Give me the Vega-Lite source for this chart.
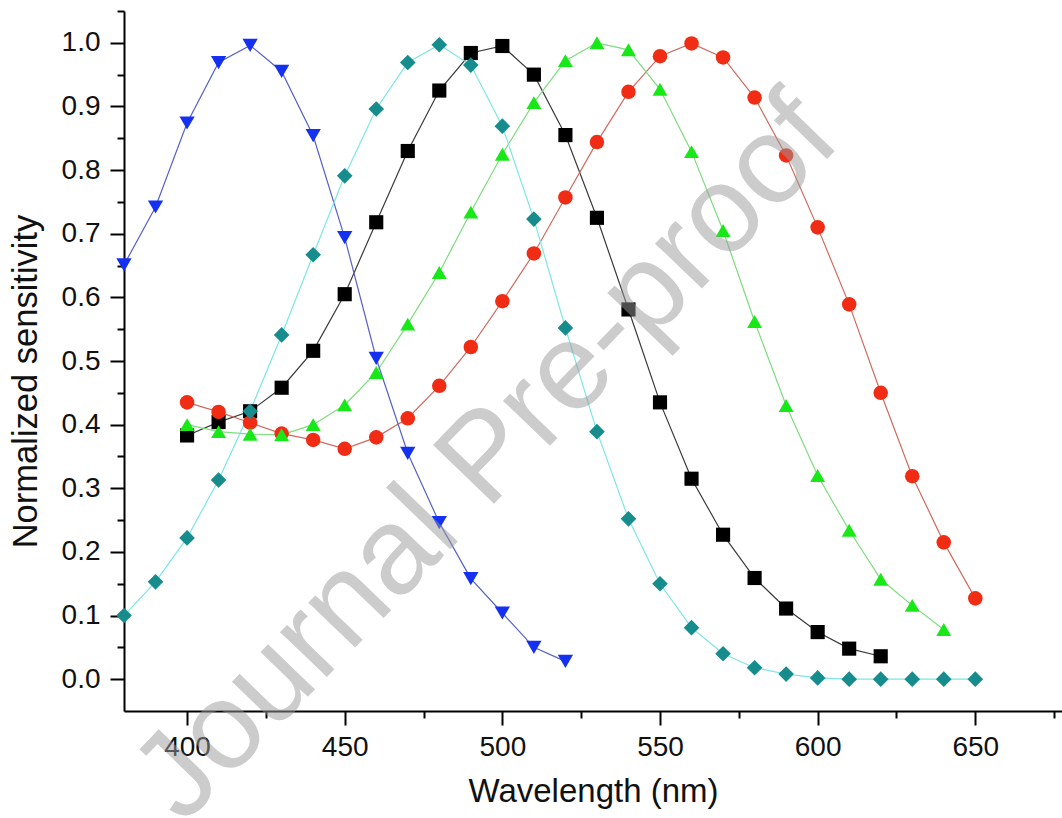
{
  "$schema": "https://vega.github.io/schema/vega-lite/v6.json",
  "width": 938,
  "height": 700,
  "autosize": {"type": "none"},
  "padding": {"left": 124, "top": 11, "right": 0, "bottom": 107},
  "background": "white",
  "config": {
    "view": {"stroke": null},
    "axis": {
      "grid": false,
      "domainColor": "#000000",
      "domainWidth": 2,
      "tickColor": "#000000",
      "tickWidth": 2,
      "labelFont": "Liberation Sans",
      "labelFontSize": 28,
      "labelColor": "#111111",
      "titleFont": "Liberation Sans",
      "titleFontSize": 33,
      "titleFontWeight": "normal",
      "titleColor": "#111111"
    }
  },
  "datasets": {
    "curves": [
      {"s": "P500", "wl": 400, "v": 0.383}, {"s": "P500", "wl": 410, "v": 0.404}, {"s": "P500", "wl": 420, "v": 0.421},
      {"s": "P500", "wl": 430, "v": 0.458}, {"s": "P500", "wl": 440, "v": 0.516}, {"s": "P500", "wl": 450, "v": 0.605},
      {"s": "P500", "wl": 460, "v": 0.718}, {"s": "P500", "wl": 470, "v": 0.830}, {"s": "P500", "wl": 480, "v": 0.925},
      {"s": "P500", "wl": 490, "v": 0.984}, {"s": "P500", "wl": 500, "v": 0.995}, {"s": "P500", "wl": 510, "v": 0.950},
      {"s": "P500", "wl": 520, "v": 0.855}, {"s": "P500", "wl": 530, "v": 0.725}, {"s": "P500", "wl": 540, "v": 0.581},
      {"s": "P500", "wl": 550, "v": 0.435}, {"s": "P500", "wl": 560, "v": 0.315}, {"s": "P500", "wl": 570, "v": 0.227},
      {"s": "P500", "wl": 580, "v": 0.159}, {"s": "P500", "wl": 590, "v": 0.111}, {"s": "P500", "wl": 600, "v": 0.074},
      {"s": "P500", "wl": 610, "v": 0.048}, {"s": "P500", "wl": 620, "v": 0.036},

      {"s": "P560", "wl": 400, "v": 0.435}, {"s": "P560", "wl": 410, "v": 0.420}, {"s": "P560", "wl": 420, "v": 0.403},
      {"s": "P560", "wl": 430, "v": 0.386}, {"s": "P560", "wl": 440, "v": 0.376}, {"s": "P560", "wl": 450, "v": 0.362},
      {"s": "P560", "wl": 460, "v": 0.380}, {"s": "P560", "wl": 470, "v": 0.410}, {"s": "P560", "wl": 480, "v": 0.461},
      {"s": "P560", "wl": 490, "v": 0.522}, {"s": "P560", "wl": 500, "v": 0.594}, {"s": "P560", "wl": 510, "v": 0.669},
      {"s": "P560", "wl": 520, "v": 0.757}, {"s": "P560", "wl": 530, "v": 0.844}, {"s": "P560", "wl": 540, "v": 0.923},
      {"s": "P560", "wl": 550, "v": 0.979}, {"s": "P560", "wl": 560, "v": 0.999}, {"s": "P560", "wl": 570, "v": 0.977},
      {"s": "P560", "wl": 580, "v": 0.914}, {"s": "P560", "wl": 590, "v": 0.823}, {"s": "P560", "wl": 600, "v": 0.710},
      {"s": "P560", "wl": 610, "v": 0.589}, {"s": "P560", "wl": 620, "v": 0.450}, {"s": "P560", "wl": 630, "v": 0.319},
      {"s": "P560", "wl": 640, "v": 0.215}, {"s": "P560", "wl": 650, "v": 0.127},

      {"s": "P530", "wl": 400, "v": 0.400}, {"s": "P530", "wl": 410, "v": 0.389}, {"s": "P530", "wl": 420, "v": 0.385},
      {"s": "P530", "wl": 430, "v": 0.384}, {"s": "P530", "wl": 440, "v": 0.400}, {"s": "P530", "wl": 450, "v": 0.431},
      {"s": "P530", "wl": 460, "v": 0.482}, {"s": "P530", "wl": 470, "v": 0.558}, {"s": "P530", "wl": 480, "v": 0.639},
      {"s": "P530", "wl": 490, "v": 0.734}, {"s": "P530", "wl": 500, "v": 0.825}, {"s": "P530", "wl": 510, "v": 0.906},
      {"s": "P530", "wl": 520, "v": 0.972}, {"s": "P530", "wl": 530, "v": 1.000}, {"s": "P530", "wl": 540, "v": 0.989},
      {"s": "P530", "wl": 550, "v": 0.927}, {"s": "P530", "wl": 560, "v": 0.829}, {"s": "P530", "wl": 570, "v": 0.705},
      {"s": "P530", "wl": 580, "v": 0.562}, {"s": "P530", "wl": 590, "v": 0.430}, {"s": "P530", "wl": 600, "v": 0.320},
      {"s": "P530", "wl": 610, "v": 0.234}, {"s": "P530", "wl": 620, "v": 0.157}, {"s": "P530", "wl": 630, "v": 0.116},
      {"s": "P530", "wl": 640, "v": 0.078},

      {"s": "P420", "wl": 380, "v": 0.651}, {"s": "P420", "wl": 390, "v": 0.742}, {"s": "P420", "wl": 400, "v": 0.874},
      {"s": "P420", "wl": 410, "v": 0.969}, {"s": "P420", "wl": 420, "v": 0.996}, {"s": "P420", "wl": 430, "v": 0.955},
      {"s": "P420", "wl": 440, "v": 0.854}, {"s": "P420", "wl": 450, "v": 0.694}, {"s": "P420", "wl": 460, "v": 0.504},
      {"s": "P420", "wl": 470, "v": 0.355}, {"s": "P420", "wl": 480, "v": 0.246}, {"s": "P420", "wl": 490, "v": 0.158},
      {"s": "P420", "wl": 500, "v": 0.104}, {"s": "P420", "wl": 510, "v": 0.050}, {"s": "P420", "wl": 520, "v": 0.028},

      {"s": "P480", "wl": 380, "v": 0.100}, {"s": "P480", "wl": 390, "v": 0.153}, {"s": "P480", "wl": 400, "v": 0.222},
      {"s": "P480", "wl": 410, "v": 0.313}, {"s": "P480", "wl": 420, "v": 0.421}, {"s": "P480", "wl": 430, "v": 0.541},
      {"s": "P480", "wl": 440, "v": 0.667}, {"s": "P480", "wl": 450, "v": 0.791}, {"s": "P480", "wl": 460, "v": 0.896},
      {"s": "P480", "wl": 470, "v": 0.969}, {"s": "P480", "wl": 480, "v": 0.997}, {"s": "P480", "wl": 490, "v": 0.965},
      {"s": "P480", "wl": 500, "v": 0.869}, {"s": "P480", "wl": 510, "v": 0.723}, {"s": "P480", "wl": 520, "v": 0.552},
      {"s": "P480", "wl": 530, "v": 0.389}, {"s": "P480", "wl": 540, "v": 0.252}, {"s": "P480", "wl": 550, "v": 0.150},
      {"s": "P480", "wl": 560, "v": 0.081}, {"s": "P480", "wl": 570, "v": 0.040}, {"s": "P480", "wl": 580, "v": 0.018},
      {"s": "P480", "wl": 590, "v": 0.008}, {"s": "P480", "wl": 600, "v": 0.002}, {"s": "P480", "wl": 610, "v": 0.000},
      {"s": "P480", "wl": 620, "v": 0.000}, {"s": "P480", "wl": 630, "v": 0.000}, {"s": "P480", "wl": 640, "v": 0.000},
      {"s": "P480", "wl": 650, "v": 0.000}
    ],
    "mark": [
      {"t": "Journal Pre-proof", "wl": 495, "v": 0.347}
    ]
  },
  "layer": [
    {
      "data": {"name": "curves"},
      "mark": {"type": "line", "strokeWidth": 1.2, "clip": false},
      "encoding": {
        "x": {
          "field": "wl", "type": "quantitative",
          "scale": {"domain": [380, 677.5], "nice": false, "zero": false},
          "axis": {
            "orient": "bottom",
            "values": [400, 450, 500, 550, 600, 650],
            "tickSize": 14,
            "labelPadding": 8,
            "title": "Wavelength (nm)",
            "titlePadding": 14
          }
        },
        "y": {
          "field": "v", "type": "quantitative",
          "scale": {"domain": [-0.05, 1.05], "nice": false, "zero": false},
          "axis": {
            "orient": "left",
            "values": [0, 0.1, 0.2, 0.3, 0.4, 0.5, 0.6, 0.7, 0.8, 0.9, 1.0],
            "format": ".1f",
            "tickSize": 14,
            "labelPadding": 10,
            "title": "Normalized sensitivity",
            "titleFontSize": 34.5,
            "titleY": 370,
            "titlePadding": 18
          }
        },
        "detail": {"field": "s"},
        "stroke": {
          "field": "s", "type": "nominal", "legend": null,
          "scale": {
            "domain": ["P500", "P560", "P530", "P420", "P480"],
            "range": ["#3a3a3a", "#d06a5e", "#7edc7e", "#5660c8", "#7ce6e6"]
          }
        }
      }
    },
    {
      "data": {"name": "curves"},
      "mark": {"type": "point", "filled": true, "opacity": 1, "clip": false},
      "encoding": {
        "x": {
          "field": "wl", "type": "quantitative",
          "scale": {"domain": [380, 677.5], "nice": false, "zero": false},
          "axis": {
            "orient": "bottom",
            "values": [425, 475, 525, 575, 625, 675],
            "tickSize": 7,
            "labels": false,
            "domain": false,
            "title": null
          }
        },
        "y": {
          "field": "v", "type": "quantitative",
          "scale": {"domain": [-0.05, 1.05], "nice": false, "zero": false},
          "axis": {
            "orient": "left",
            "values": [0.05, 0.15, 0.25, 0.35, 0.45, 0.55, 0.65, 0.75, 0.85, 0.95, 1.05],
            "tickSize": 7,
            "labels": false,
            "domain": false,
            "title": null
          }
        },
        "fill": {
          "field": "s", "type": "nominal", "legend": null,
          "scale": {
            "domain": ["P500", "P560", "P530", "P420", "P480"],
            "range": ["#000000", "#f02c14", "#18e818", "#1430f0", "#168c8c"]
          }
        },
        "shape": {
          "field": "s", "type": "nominal", "legend": null,
          "scale": {
            "domain": ["P500", "P560", "P530", "P420", "P480"],
            "range": ["square", "circle", "triangle-up", "triangle-down", "diamond"]
          }
        },
        "size": {
          "field": "s", "type": "nominal", "legend": null,
          "scale": {
            "domain": ["P500", "P560", "P530", "P420", "P480"],
            "range": [200, 245, 340, 340, 380]
          }
        }
      }
    },
    {
      "data": {"name": "mark"},
      "mark": {
        "type": "text",
        "font": "Liberation Sans",
        "fontSize": 123,
        "angle": -46,
        "align": "center",
        "baseline": "middle",
        "color": "#9a9a9a",
        "opacity": 0.5,
        "clip": false
      },
      "encoding": {
        "x": {"field": "wl", "type": "quantitative", "axis": null},
        "y": {"field": "v", "type": "quantitative", "axis": null},
        "text": {"field": "t", "type": "nominal"}
      }
    }
  ],
  "resolve": {"axis": {"x": "independent", "y": "independent"}}
}
